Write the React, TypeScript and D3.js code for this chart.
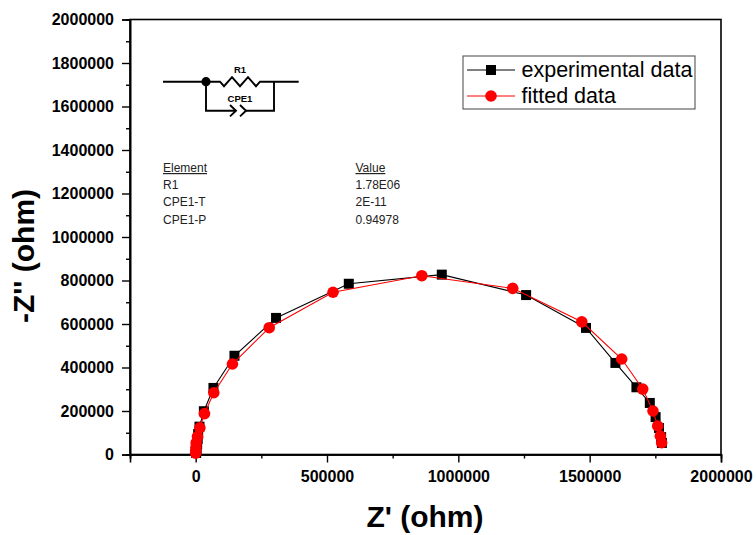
import * as d3 from "d3";
import {useEffect, useRef} from "react";

// values, in ohm
const expZre = [1900, 3800, 5700, 7600, 9500, 14500, 31200, 67700, 147700, 306000, 583000, 937000, 1258000, 1486000, 1598000, 1678000, 1729000, 1751000, 1764000, 1772000, 1775000];
const expZim = [6900, 25000, 48000, 71000, 94000, 128000, 199000, 306000, 454000, 628000, 785000, 827000, 733000, 582000, 421000, 309000, 237000, 172000, 122000, 80000, 53000];
const fitZre = [0, 500, 1000, 2000, 7000, 16000, 33500, 69000, 140000, 280000, 523000, 861000, 1207000, 1470000, 1622000, 1702000, 1741000, 1759000, 1769000, 1774000];
const fitZim = [6000, 18000, 32000, 53000, 82000, 123000, 188000, 284000, 416000, 583000, 746000, 822000, 764000, 610000, 439000, 301000, 200000, 131000, 85000, 54000];

const xMajor = [0, 500000, 1000000, 1500000, 2000000];
const xMinor = [-250000, 250000, 750000, 1250000, 1750000];
const yMajor = [0, 200000, 400000, 600000, 800000, 1000000, 1200000, 1400000, 1600000, 1800000, 2000000];
const yMinor = [100000, 300000, 500000, 700000, 900000, 1100000, 1300000, 1500000, 1700000, 1900000];

const elementNames = ["R1", "CPE1-T", "CPE1-P"];
const elementValues = ["1.78E06", "2E-11", "0.94978"];

const FONT = "'Liberation Sans', Arial, sans-serif";

const App = () => {
    const ref = useRef<SVGSVGElement>(null);

    useEffect(() => {
        const svg = d3.select(ref.current);
        svg.selectAll("*").remove();

        const margin = {top: 19.5, right: 35, bottom: 80.5, left: 130};
        const width = 756, height = 535;

        const x = d3.scaleLinear().domain([-250000, 2000000]).range([margin.left, width - margin.right]);
        const y = d3.scaleLinear().domain([0, 2000000]).range([height - margin.bottom, margin.top]);

        // frame
        svg.append("rect")
            .attr("x", margin.left).attr("y", margin.top)
            .attr("width", width - margin.left - margin.right)
            .attr("height", height - margin.top - margin.bottom)
            .attr("fill", "none").attr("stroke", "#000").attr("stroke-width", 1.6);

        // axes
        const bottom = svg.append("g").attr("transform", `translate(0, ${height - margin.bottom})`);
        bottom.append("g").call(d3.axisBottom(x).tickValues(xMajor).tickSize(8).tickPadding(8).tickFormat(d3.format("d")));
        bottom.append("g").call(d3.axisBottom(x).tickValues(xMinor).tickSize(4).tickFormat(() => ""));
        const left = svg.append("g").attr("transform", `translate(${margin.left}, 0)`);
        left.append("g").call(d3.axisLeft(y).tickValues(yMajor).tickSize(8).tickPadding(8).tickFormat(d3.format("d")));
        left.append("g").call(d3.axisLeft(y).tickValues(yMinor).tickSize(4).tickFormat(() => ""));
        svg.selectAll(".domain").attr("stroke-width", 1.6);
        svg.selectAll(".tick line").attr("stroke-width", 1.4);
        svg.selectAll(".tick text")
            .attr("font-family", FONT).attr("font-weight", "bold").attr("font-size", 16).attr("fill", "#000");

        // axis titles
        svg.append("text")
            .attr("x", 425).attr("y", 527)
            .attr("text-anchor", "middle")
            .attr("font-family", FONT).attr("font-weight", "bold").attr("font-size", 30)
            .text("Z' (ohm)");
        svg.append("text")
            .attr("transform", "translate(34, 256) rotate(-90)")
            .attr("text-anchor", "middle")
            .attr("font-family", FONT).attr("font-weight", "bold").attr("font-size", 30)
            .text("-Z'' (ohm)");

        // series
        const path = (xs: number[], ys: number[]) =>
            d3.line<number>().x(i => x(xs[i])).y(i => y(ys[i]))(d3.range(xs.length));

        svg.append("path")
            .attr("d", path(expZre, expZim))
            .attr("fill", "none").attr("stroke", "#000").attr("stroke-width", 1.1);
        const square = d3.symbol().type(d3.symbolSquare).size(100);
        svg.append("g").selectAll("path")
            .data(d3.range(expZre.length))
            .join("path")
            .attr("d", square)
            .attr("transform", i => `translate(${x(expZre[i])}, ${y(expZim[i])})`)
            .attr("fill", "#000");

        svg.append("path")
            .attr("d", path(fitZre, fitZim))
            .attr("fill", "none").attr("stroke", "#f00").attr("stroke-width", 1.1);
        svg.append("g").selectAll("circle")
            .data(d3.range(fitZre.length))
            .join("circle")
            .attr("cx", i => x(fitZre[i]))
            .attr("cy", i => y(fitZim[i]))
            .attr("r", 5.8)
            .attr("fill", "#f00");

        // legend
        const legend = svg.append("g").attr("transform", "translate(463, 56)");
        legend.append("rect")
            .attr("width", 232).attr("height", 53)
            .attr("fill", "#fff").attr("stroke", "#555").attr("stroke-width", 1.1);
        legend.append("line").attr("x1", 4).attr("x2", 52).attr("y1", 14).attr("y2", 14).attr("stroke", "#000");
        legend.append("path").attr("d", square).attr("transform", "translate(28, 14)").attr("fill", "#000");
        legend.append("line").attr("x1", 4).attr("x2", 52).attr("y1", 40).attr("y2", 40).attr("stroke", "#f00");
        legend.append("circle").attr("cx", 28).attr("cy", 40).attr("r", 5.8).attr("fill", "#f00");
        legend.selectAll("text")
            .data(["experimental data", "fitted data"])
            .join("text")
            .attr("x", 58.5)
            .attr("y", (d, i) => 21 + i * 26)
            .attr("font-family", FONT).attr("font-size", 21.5).attr("fill", "#000")
            .text(d => d);

        // equivalent circuit inset
        const circuit = svg.append("g")
            .attr("fill", "none").attr("stroke", "#000").attr("stroke-width", 1.9);
        circuit.append("path").attr("d", "M163 81.7H220l4 4.5 8-9 8 9 8-9 8 9 4-4.5H298.7");
        circuit.append("path").attr("d", "M206 81.7V110.7H235M274 81.7V110.7H245");
        circuit.append("path").attr("d", "M230 105l6 5.7-6 5.7M240 105l6 5.7-6 5.7");
        svg.append("circle").attr("cx", 206).attr("cy", 81.7).attr("r", 4.6).attr("fill", "#000");
        svg.append("text").attr("x", 240).attr("y", 73).attr("text-anchor", "middle")
            .attr("font-family", FONT).attr("font-weight", "bold").attr("font-size", 9.5).text("R1");
        svg.append("text").attr("x", 240).attr("y", 102).attr("text-anchor", "middle")
            .attr("font-family", FONT).attr("font-weight", "bold").attr("font-size", 9.5).text("CPE1");

        // fit table
        const table = svg.append("g")
            .attr("font-family", FONT).attr("font-size", 12).attr("fill", "#222");
        table.append("text").attr("x", 163).attr("y", 172).attr("text-decoration", "underline").text("Element");
        table.append("text").attr("x", 355.5).attr("y", 172).attr("text-decoration", "underline").text("Value");
        elementNames.forEach((n, i) => {
            table.append("text").attr("x", 163).attr("y", 189 + i * 17.3).text(n);
            table.append("text").attr("x", 355.5).attr("y", 189 + i * 17.3).text(elementValues[i]);
        });
    }, []);

    return (
        <svg ref={ref} width={756} height={535}
             style={{position: "absolute", left: 0, top: 0, background: "#fff"}}/>
    );
};

export default App;
